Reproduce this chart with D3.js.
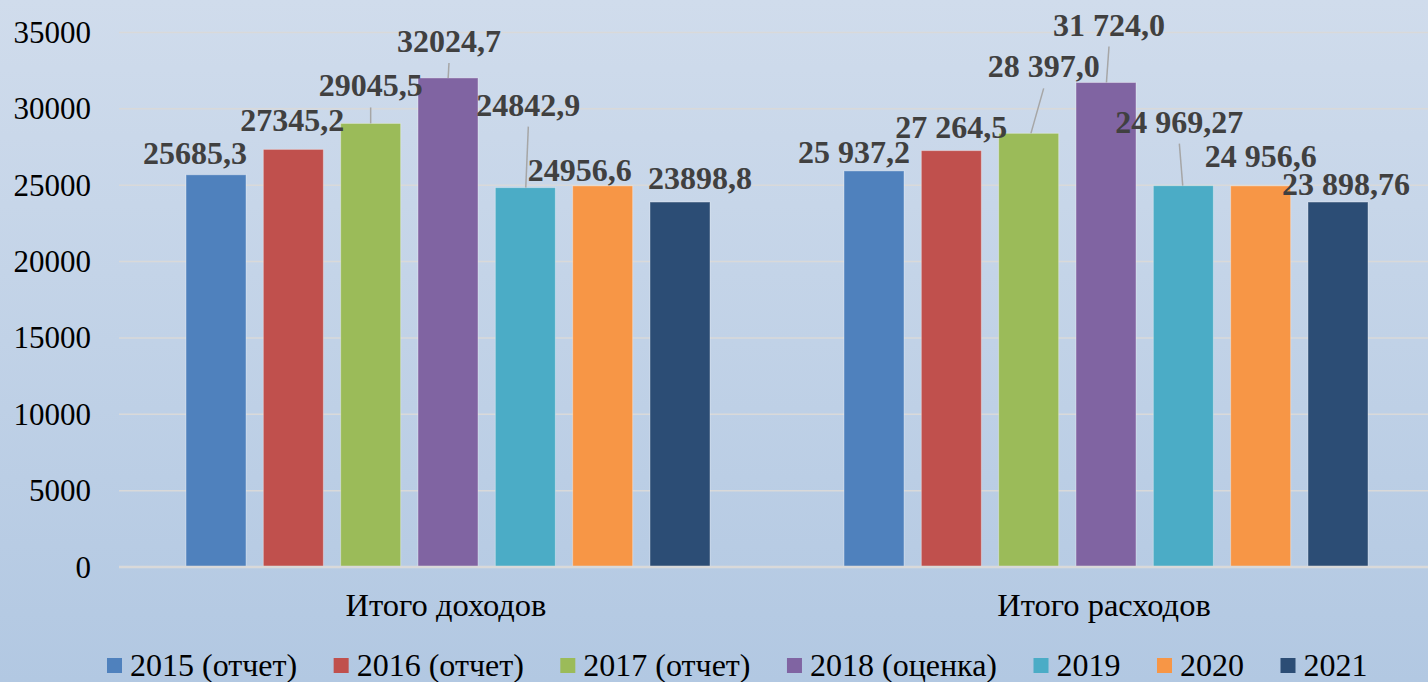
<!DOCTYPE html>
<html>
<head>
<meta charset="utf-8">
<script src="https://cdn.jsdelivr.net/npm/d3@7/dist/d3.min.js"></script>
</head>
<body style="margin:0">
<div id="chart"></div>
<script>
// ---- data ----
const categories = ["Итого доходов", "Итого расходов"];
const seriesNames = ["2015 (отчет)", "2016 (отчет)", "2017 (отчет)", "2018 (оценка)", "2019", "2020", "2021"];
const incomeValues  = [25685.3, 27345.2, 29045.5, 32024.7, 24842.9, 24956.6, 23898.8];
const expenseValues = [25937.2, 27264.5, 28397.0, 31724.0, 24969.27, 24956.6, 23898.76];
const incomeLabels  = ["25685,3", "27345,2", "29045,5", "32024,7", "24842,9", "24956,6", "23898,8"];
const expenseLabels = ["25 937,2", "27 264,5", "28 397,0", "31 724,0", "24 969,27", "24 956,6", "23 898,76"];
const yTicks = [0, 5000, 10000, 15000, 20000, 25000, 30000, 35000];
const colors = ["#4f81bd", "#c0504d", "#9bbb59", "#8064a2", "#4bacc6", "#f79646", "#2c4d75"];

// label placement offsets relative to bar centre/top (dx, dy to baseline); leader = draw line
const incomeLabelPos = [
  { dx: -21, dy: -11 }, { dx: -1, dy: -18 }, { dx: 0, dy: -27, leader: true },
  { dx: 1, dy: -26, leader: true }, { dx: 3, dy: -72, leader: true },
  { dx: -23, dy: -5 }, { dx: 20, dy: -13 }
];
const expenseLabelPos = [
  { dx: -20, dy: -8 }, { dx: 0, dy: -13 }, { dx: 15, dy: -56, leader: true },
  { dx: 3, dy: -47, leader: true }, { dx: -4, dy: -53, leader: true },
  { dx: 0, dy: -19 }, { dx: 8, dy: -7 }
];

const W = 1428, H = 682;
const FONT = "Liberation Serif";

const svg = d3.select("#chart").append("svg")
  .attr("width", W).attr("height", H)
  .attr("font-family", FONT)
  .style("display", "block");

// background gradient
const grad = svg.append("defs").append("linearGradient")
  .attr("id", "bg").attr("x1", 0).attr("y1", 0).attr("x2", 0).attr("y2", 1);
grad.append("stop").attr("offset", "0%").attr("stop-color", "#d0dcec");
grad.append("stop").attr("offset", "100%").attr("stop-color", "#b2c8e2");
svg.append("rect").attr("width", W).attr("height", H).attr("fill", "url(#bg)");

// scales
const x0 = d3.scaleBand().domain(categories).range([119, 1435]);
const x1 = d3.scaleBand().domain(seriesNames).range([67, 591]).paddingInner(0.224);
const y = d3.scaleLinear().domain([0, 35000]).range([567, 32.5]);

// gridlines
svg.append("g")
  .selectAll("line").data(yTicks.filter(d => d > 0)).join("line")
  .attr("x1", 119).attr("x2", W)
  .attr("y1", d => y(d)).attr("y2", d => y(d))
  .attr("stroke", "#d9d9d9").attr("stroke-width", 1.5);

// y axis labels
svg.append("g")
  .selectAll("text").data(yTicks).join("text")
  .attr("x", 91).attr("y", d => y(d))
  .attr("dy", "0.34em")
  .attr("text-anchor", "end")
  .attr("font-family", FONT)
  .attr("font-size", 31).attr("fill", "#000")
  .text(d => d);

// bars
const groups = [
  { cat: categories[0], values: incomeValues, labels: incomeLabels, pos: incomeLabelPos },
  { cat: categories[1], values: expenseValues, labels: expenseLabels, pos: expenseLabelPos }
];

groups.forEach(gr => {
  const g = svg.append("g").attr("transform", `translate(${x0(gr.cat)},0)`);
  g.selectAll("rect").data(gr.values).join("rect")
    .attr("x", (d, i) => x1(seriesNames[i]))
    .attr("width", x1.bandwidth())
    .attr("y", d => y(d))
    .attr("height", d => y(0) - y(d))
    .attr("fill", (d, i) => colors[i])
    .attr("stroke", "rgba(255,255,255,0.35)").attr("stroke-width", 1);
});

// baseline
svg.append("line")
  .attr("x1", 119).attr("x2", W)
  .attr("y1", y(0)).attr("y2", y(0))
  .attr("stroke", "#d9d9d9").attr("stroke-width", 2.5);

// data labels
groups.forEach(gr => {
  const g = svg.append("g").attr("transform", `translate(${x0(gr.cat)},0)`);
  gr.values.forEach((v, i) => {
    const cx = x1(seriesNames[i]) + x1.bandwidth() / 2;
    const top = y(v);
    const p = gr.pos[i];
    const lx = cx + p.dx, ly = top + p.dy;
    if (p.leader) {
      g.append("line")
        .attr("x1", lx).attr("y1", ly + 11)
        .attr("x2", cx + p.dx * 0.15).attr("y2", top)
        .attr("stroke", "#a6a6a6").attr("stroke-width", 1.5);
    }
    g.append("text")
      .attr("x", lx).attr("y", ly)
      .attr("text-anchor", "middle")
      .attr("font-family", FONT)
      .attr("font-size", 32).attr("font-weight", "bold")
      .attr("fill", "#404040")
      .text(gr.labels[i]);
  });
});

// category labels
svg.append("g")
  .selectAll("text").data(categories).join("text")
  .attr("x", d => x0(d) + x0.bandwidth() / 2 - 2)
  .attr("y", 616)
  .attr("text-anchor", "middle")
  .attr("font-family", FONT)
  .attr("font-size", 32.5).attr("fill", "#000")
  .text(d => d);

// legend
const legend = svg.append("g");
let lx = 107;
seriesNames.forEach((name, i) => {
  legend.append("rect")
    .attr("x", lx).attr("y", 658)
    .attr("width", 15).attr("height", 15)
    .attr("fill", colors[i]);
  const t = legend.append("text")
    .attr("x", lx + 23).attr("y", 676)
    .attr("font-family", FONT)
    .attr("font-size", 32).attr("fill", "#000")
    .text(name);
  lx = lx + 23 + t.node().getComputedTextLength() + 36.5;
});
</script>
</body>
</html>
